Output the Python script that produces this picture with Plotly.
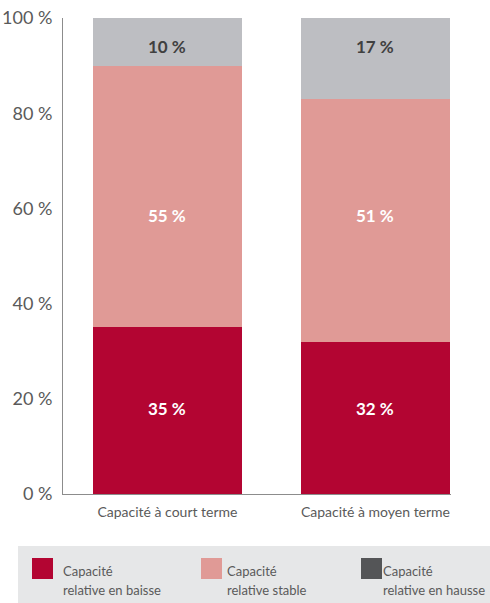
import plotly.graph_objects as go

# Stacked shares by horizon
categories = ["Capacité à court terme", "Capacité à moyen terme"]
series_names = ["Capacité relative en baisse", "Capacité relative stable", "Capacité relative en hausse"]
baisse = [35, 32]
stable = [55, 51]
hausse = [10, 17]
y_ticks = [0, 20, 40, 60, 80, 100]

bar_colors = ["#b30532", "#e09a96", "#bdbec2"]
legend_colors = ["#b30532", "#e09a96", "#545557"]
label_colors = ["#ffffff", "#ffffff", "#404040"]
# value labels sit on a common row per series, across both bars
label_rows = [17.9, 58.6, 94.1]

x_pos = list(range(len(categories)))
fig = go.Figure()
annotations = []
for name, vals, col, tcol, row in zip(series_names, [baisse, stable, hausse], bar_colors, label_colors, label_rows):
    fig.add_trace(go.Bar(
        x=x_pos, y=vals, name=name, marker=dict(color=col, line=dict(width=0)),
        width=0.72, hoverinfo="skip", showlegend=False,
    ))
    for xi, v in zip(x_pos, vals):
        annotations.append(dict(x=xi, y=row, xref="x", yref="y", text=f"<b>{v} %</b>",
                                showarrow=False, xanchor="center", yanchor="middle",
                                font=dict(family="Lato", size=17, color=tcol)))

fig.update_layout(
    barmode="stack",
    width=490, height=603,
    margin=dict(l=63, r=39, t=18, b=109),
    paper_bgcolor="white", plot_bgcolor="white",
    font=dict(family="Lato", color="#5a5a5a"),
    xaxis=dict(
        range=[-0.502, 1.363], tickvals=x_pos, ticktext=categories, automargin=False,
        showgrid=False, zeroline=False, showline=True, linecolor="#8c8c8c", linewidth=1,
        ticks="", ticklabelstandoff=5, tickfont=dict(size=14, color="#5a5a5a"), fixedrange=True,
    ),
    yaxis=dict(
        range=[0, 100], tickvals=y_ticks, ticktext=[f"{v} %" for v in y_ticks], automargin=False,
        showgrid=False, zeroline=False, showline=True, linecolor="#8c8c8c", linewidth=1,
        ticks="", ticklabelstandoff=6, tickfont=dict(size=18, color="#5a5a5a"), fixedrange=True,
    ),
)

# Legend panel drawn below the plot area (paper coords relative to the plot box)
def fx(x):
    return (x - 63) / 388
def fy(y):
    return (494 - y) / 476

shapes = [dict(type="rect", xref="paper", yref="paper", layer="below",
               x0=fx(18), x1=fx(490), y0=fy(546), y1=fy(603),
               fillcolor="#e6e7e8", line=dict(width=0))]
sq_x = [32, 201, 361]
txt_x = [63, 227, 383]
for i, name in enumerate(series_names):
    shapes.append(dict(type="rect", xref="paper", yref="paper",
                       x0=fx(sq_x[i]), x1=fx(sq_x[i] + 21),
                       y0=fy(558), y1=fy(579),
                       fillcolor=legend_colors[i], line=dict(width=0)))
    first, rest = name.split(" ", 1)
    for line, yc in ((first, 571), (rest, 590)):
        annotations.append(dict(xref="paper", yref="paper",
                                x=fx(txt_x[i]), y=fy(yc),
                                xanchor="left", yanchor="middle", align="left",
                                text=line, showarrow=False, xshift=-2,
                                font=dict(family="Lato", size=13, color="#5a5a5a")))
fig.update_layout(shapes=shapes, annotations=annotations)

fig.write_html("out.html")
